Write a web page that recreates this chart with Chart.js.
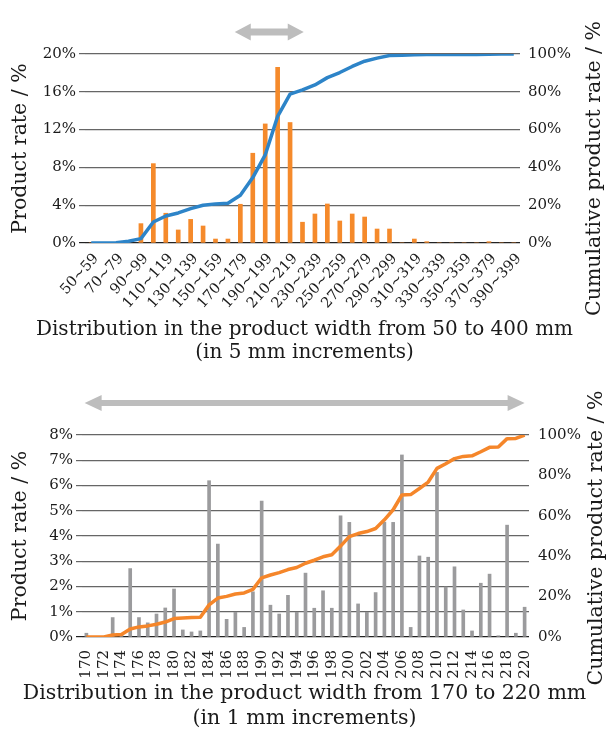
<!DOCTYPE html>
<html lang="en">
<head>
  <meta charset="UTF-8" />
  <title>Product width distribution</title>
  <style>
    body { margin: 0; background: #ffffff; }
    .box { position: absolute; left: 0; width: 609px; }
    #topBox { top: 0; height: 370px; }
    #botBox { top: 370px; height: 363px; }
  </style>
  <script src="https://cdn.jsdelivr.net/npm/chart.js"></script>
</head>
<body>
  <div class="box" id="topBox"><canvas id="topChart" width="609" height="370"></canvas></div>
  <div class="box" id="botBox"><canvas id="botChart" width="609" height="363"></canvas></div>

  <script>
    // 10 mm bins, 50 to 400 mm
    const topBins = ['50~59','60~69','70~79','80~89','90~99','100~109','110~119','120~129','130~139','140~149',
      '150~159','160~169','170~179','180~189','190~199','200~209','210~219','220~229','230~239','240~249',
      '250~259','260~269','270~279','280~289','290~299','300~309','310~319','320~329','330~339','340~349',
      '350~359','360~369','370~379','380~389','390~399'];
    const topRate = [0, 0, 0, 0, 2.05, 8.4, 3.15, 1.38, 2.5, 1.8,
      0.42, 0.42, 4.1, 9.5, 12.6, 18.6, 12.75, 2.2, 3.07, 4.13,
      2.33, 3.07, 2.75, 1.48, 1.48, 0, 0.42, 0.14, 0, 0,
      0, 0, 0.14, 0, 0];
    const topCum = [0, 0, 0.1, 0.9, 2.3, 11.1, 14.3, 15.9, 18.2, 20.0,
      20.7, 21.0, 25.3, 34.6, 46.6, 67.0, 78.8, 81.0, 83.6, 87.5,
      90.2, 93.4, 96.2, 97.8, 99.2, 99.4, 99.6, 99.7, 99.7, 99.7,
      99.8, 99.8, 99.9, 100, 100];

    // 1 mm bins, 170 to 220 mm
    const botBins = ['170','171','172','173','174','175','176','177','178','179',
      '180','181','182','183','184','185','186','187','188','189',
      '190','191','192','193','194','195','196','197','198','199',
      '200','201','202','203','204','205','206','207','208','209',
      '210','211','212','213','214','215','216','217','218','219','220'];
    const botRate = [0.15, 0, 0, 0.77, 0.1, 2.71, 0.77, 0.56, 0.91, 1.15,
      1.9, 0.28, 0.2, 0.24, 6.19, 3.68, 0.7, 0.98, 0.38, 1.79,
      5.38, 1.26, 0.91, 1.65, 0.98, 2.53, 1.14, 1.83, 1.14, 4.8,
      4.54, 1.31, 0.98, 1.76, 4.55, 4.54, 7.21, 0.38, 3.21, 3.16,
      6.52, 1.98, 2.78, 1.07, 0.24, 2.13, 2.49, 0.05, 4.43, 0.15, 1.18];
    const botCum = [0, 0, 0, 1.0, 1.2, 4.0, 5.0, 5.5, 6.3, 7.4,
      9.1, 9.4, 9.6, 9.8, 15.9, 19.3, 20.1, 21.3, 21.8, 23.6,
      29.3, 30.7, 31.9, 33.4, 34.4, 36.5, 38.0, 39.7, 40.7, 45.0,
      49.7, 51.2, 52.2, 53.7, 58.0, 63.0, 70.3, 70.5, 73.5, 76.7,
      83.5, 85.8, 88.3, 89.4, 89.7, 91.7, 93.9, 94.1, 98.2, 98.3, 100];

    const topTitle = ['Distribution in the product width from 50 to 400 mm', '(in 5 mm increments)'];
    const botTitle = ['Distribution in the product width from 170 to 220 mm', '(in 1 mm increments)'];
    const leftTitle = 'Product rate / %';
    const rightTitle = 'Cumulative product rate / %';

    const FONT = "'DejaVu Serif', serif";
    const INK = '#1a1a1a';

    // grey range arrow above the plot, ends given in category index units
    const rangeArrow = {
      id: 'rangeArrow',
      afterDraw(chart, args, o) {
        const x = chart.scales.x;
        const x0 = x.getPixelForValue(o.from), x1 = x.getPixelForValue(o.to);
        const y = o.y, s = o.shaft / 2, h = o.head / 2, L = o.len;
        const c = chart.ctx;
        c.save();
        c.fillStyle = '#bdbdbd';
        c.beginPath();
        c.moveTo(x0, y); c.lineTo(x0 + L, y - h); c.lineTo(x0 + L, y - s);
        c.lineTo(x1 - L, y - s); c.lineTo(x1 - L, y - h); c.lineTo(x1, y);
        c.lineTo(x1 - L, y + h); c.lineTo(x1 - L, y + s);
        c.lineTo(x0 + L, y + s); c.lineTo(x0 + L, y + h);
        c.closePath();
        c.fill();
        c.restore();
      }
    };

    // texts drawn by hand: right title bottom-to-top, x title, slanted tick labels
    const extraText = {
      id: 'extraText',
      afterDraw(chart, args, o) {
        const c = chart.ctx;
        const a = chart.chartArea;
        c.save();
        c.fillStyle = INK;

        c.save();
        c.font = '20.5px ' + FONT;
        c.translate(chart.width - o.rtInset, (a.top + a.bottom) / 2 + o.rtShift);
        c.rotate(-Math.PI / 2);
        c.textAlign = 'center';
        c.textBaseline = 'middle';
        c.fillText(rightTitle, 0, 0);
        c.restore();

        c.font = o.titleSize + 'px ' + FONT;
        c.textAlign = 'center';
        c.textBaseline = 'middle';
        o.title.forEach((t, k) => c.fillText(t, chart.width / 2, o.titleY[k]));

        if (o.slant) {
          const x = chart.scales.x;
          c.font = o.slant.size + 'px ' + FONT;
          c.textAlign = 'right';
          c.textBaseline = 'middle';
          x.getLabels().forEach((t, i) => {
            if (i % 2) return;
            c.save();
            c.translate(x.getPixelForValue(i) + o.slant.dx, a.bottom + o.slant.dy);
            c.rotate(-o.slant.angle * Math.PI / 180);
            c.fillText(t, 0, 0);
            c.restore();
          });
        }
        c.restore();
      }
    };

    function makeChart(id, cfg) {
      return new Chart(document.getElementById(id), {
        type: 'bar',
        data: {
          labels: cfg.labels,
          datasets: [
            { type: 'line', data: cfg.cum, yAxisID: 'y2', borderColor: cfg.lineColor, borderWidth: 3.5,
              pointRadius: 0, tension: 0, borderJoinStyle: 'round', order: 0 },
            { type: 'bar', data: cfg.rate, yAxisID: 'y', backgroundColor: cfg.barColor,
              barThickness: cfg.barW, order: 1 }
          ]
        },
        options: {
          responsive: false,
          animation: false,
          layout: { padding: { top: cfg.area.top, left: 0, right: 0, bottom: 0 } },
          plugins: {
            legend: { display: false },
            tooltip: { enabled: false },
            rangeArrow: cfg.arrow,
            extraText: cfg.text
          },
          scales: {
            x: {
              offset: true,
              grid: { display: false },
              border: { display: false },
              ticks: {
                display: !cfg.text.slant,
                autoSkip: false,
                minRotation: 90, maxRotation: 90,
                padding: 5,
                color: INK,
                font: { family: FONT, size: 15 },
                callback: (v, i) => (i % 2 === 0 ? cfg.labels[i] : null)
              },
              afterFit: s => { s.height = cfg.h - cfg.area.bottom; }
            },
            y: {
              position: 'left',
              min: 0, max: cfg.rateMax,
              ticks: { stepSize: cfg.rateStep, padding: 3, color: INK,
                font: { family: FONT, size: 15 }, callback: v => v + '%' },
              grid: { color: c => (c.tick.value === 0 ? '#222' : '#666'), lineWidth: 1.2, tickLength: 6 },
              border: { display: false },
              title: { display: true, text: leftTitle, color: INK,
                font: { family: FONT, size: 20.5 }, padding: { top: 8, bottom: 0 } },
              afterFit: s => { s.width = cfg.area.left; }
            },
            y2: {
              position: 'right',
              min: 0, max: 100,
              ticks: { stepSize: 20, padding: cfg.rPad, color: INK,
                font: { family: FONT, size: 15 }, callback: v => v + '%' },
              grid: { drawOnChartArea: false, display: true, tickLength: 0 },
              border: { display: false },
              afterFit: s => { s.width = 609 - cfg.area.right; }
            }
          }
        },
        plugins: [rangeArrow, extraText]
      });
    }

    makeChart('topChart', {
      labels: topBins, rate: topRate, cum: topCum,
      barColor: '#f58a2b', lineColor: '#2d84c8', barW: 4,
      h: 370, area: { top: 54, bottom: 243, left: 85, right: 520 },
      rateMax: 20, rateStep: 4, rPad: 8,
      text: { title: topTitle, titleY: [330, 353], titleSize: 20, rtInset: 14, rtShift: 20,
        slant: { size: 14.5, dx: 5, dy: 13, angle: 48 } },
      arrow: { from: 11.55, to: 17.1, y: 32, shaft: 7, head: 17, len: 16 }
    });

    makeChart('botChart', {
      labels: botBins, rate: botRate, cum: botCum,
      barColor: '#9b9b9d', lineColor: '#f5862a', barW: 3,
      h: 363, area: { top: 65, bottom: 267, left: 82, right: 529 },
      rateMax: 8, rateStep: 1, rPad: 9,
      text: { title: botTitle, titleY: [324, 349], titleSize: 20.5, rtInset: 12, rtShift: 2, slant: null },
      arrow: { from: -0.2, to: 50, y: 33, shaft: 6, head: 16, len: 17 }
    });
  </script>
</body>
</html>
